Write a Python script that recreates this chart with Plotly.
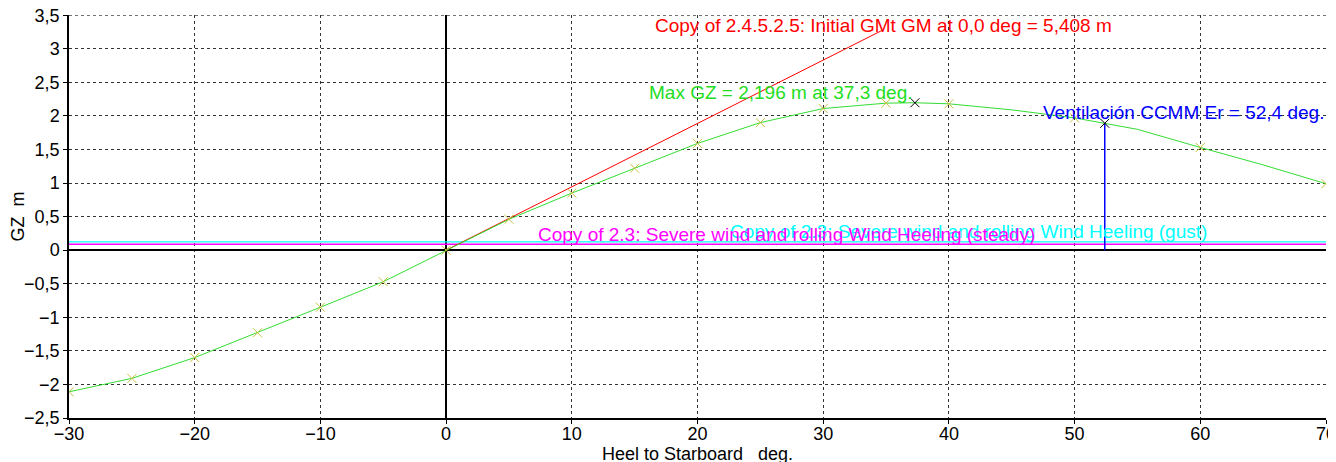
import plotly.graph_objects as go

# GZ curve (heel deg, GZ m)
heel = [-30, -25, -20, -15, -10, -5, 0, 5, 10, 15, 20, 25, 30, 35, 37.3, 40, 45, 50, 52.4, 55, 60, 65, 70]
gz = [-2.11, -1.91, -1.60, -1.23, -0.85, -0.47, 0.0, 0.46, 0.85, 1.22, 1.59, 1.90, 2.11, 2.19, 2.196, 2.18, 2.09, 1.97, 1.89, 1.80, 1.53, 1.27, 0.99]
mark_heel = [-30, -25, -20, -15, -10, -5, 0, 5, 10, 15, 20, 25, 30, 35, 40, 50, 60, 70]
mark_gz = [-2.11, -1.91, -1.60, -1.23, -0.85, -0.47, 0.0, 0.46, 0.85, 1.22, 1.59, 1.90, 2.11, 2.19, 2.18, 1.97, 1.53, 0.99]

# Initial GM line
gm_x = [0, 34.8]
gm_y = [0, 5.408 * 34.8 / 57.2958]

# Heeling arms
steady_x = [-30, 70]
steady_y = [0.09, 0.09]
gust_x = [-30, 70]
gust_y = [0.125, 0.125]

# Key points
maxgz_x, maxgz_y = 37.3, 2.196
er_x, er_y = 52.4, 1.89

x_ticks = [-30, -20, -10, 0, 10, 20, 30, 40, 50, 60, 70]
y_ticks = [-2.5, -2, -1.5, -1, -0.5, 0, 0.5, 1, 1.5, 2, 2.5, 3, 3.5]

GREEN = "#33dd33"
FONT = "Liberation Sans, Arial, sans-serif"

fig = go.Figure()
fig.add_trace(go.Scatter(x=steady_x, y=steady_y, mode="lines", line=dict(color="#ff00ff", width=1.5), hoverinfo="skip"))
fig.add_trace(go.Scatter(x=gust_x, y=gust_y, mode="lines", line=dict(color="#00ffff", width=1.2), hoverinfo="skip"))
fig.add_trace(go.Scatter(x=gm_x, y=gm_y, mode="lines", line=dict(color="#ff0000", width=1)))
fig.add_trace(go.Scatter(x=heel, y=gz, mode="lines", line=dict(color=GREEN, width=1)))
fig.add_trace(go.Scatter(x=mark_heel, y=mark_gz, mode="markers",
                         marker=dict(symbol="x-thin", size=9, line=dict(color="#c8c040", width=1), color="#c8c040")))
fig.add_trace(go.Scatter(x=[er_x, er_x], y=[0, er_y], mode="lines", line=dict(color="#0000ff", width=1.5)))
fig.add_trace(go.Scatter(x=[maxgz_x, er_x], y=[maxgz_y, er_y], mode="markers",
                         marker=dict(symbol="x-thin", size=9, line=dict(color="black", width=1), color="black")))

ann = [
    (16.6, 3.35, "Copy of 2.4.5.2.5: Initial GMt GM at 0,0 deg = 5,408 m", "#ff0000"),
    (16.15, 2.35, "Max GZ = 2,196 m at 37,3 deg.", "#22dd22"),
    (47.5, 2.05, "Ventilación CCMM Er = 52,4 deg.", "#0000ff"),
    (22.6, 0.28, "Copy of 2.3: Severe wind and rolling Wind Heeling (gust)", "#00ffff"),
    (7.3, 0.24, "Copy of 2.3: Severe wind and rolling Wind Heeling (steady)", "#ff00ff"),
]
for x, y, t, c in ann:
    fig.add_annotation(x=x, y=y, text=t, showarrow=False, xanchor="left", yanchor="middle",
                       font=dict(color=c, size=19, family=FONT), xshift=-2)

# top edge gridline (dotted, like the other grid lines)
fig.add_shape(type="line", xref="paper", yref="y", x0=0, x1=1, y0=y_ticks[-1], y1=y_ticks[-1],
              line=dict(color="#333333", width=1, dash="dot"), layer="below")

fig.update_layout(
    width=1336, height=462,
    margin=dict(l=61, r=18, t=7, b=52),
    plot_bgcolor="white", paper_bgcolor="white",
    showlegend=False,
    separators=",.",
    font=dict(family=FONT, size=18, color="black"),
)
fig.update_xaxes(range=[-30, 70], tickvals=x_ticks, showgrid=True, gridcolor="#333333", griddash="dot", gridwidth=1,
                 zeroline=True, zerolinecolor="black", zerolinewidth=1.5, automargin=False,
                 showline=True, linecolor="black", linewidth=1.5, ticks="outside", ticklen=4, tickcolor="black",
                 ticklabelstandoff=-5, ticklabeloverflow="allow",
                 title=dict(text="Heel to Starboard&nbsp;&nbsp;&nbsp;deg.", font=dict(size=18), standoff=0),
                 tickfont=dict(size=18))
fig.update_yaxes(range=[-2.5, 3.503], tickvals=y_ticks, showgrid=True, gridcolor="#333333", griddash="dot", gridwidth=1,
                 zeroline=True, zerolinecolor="black", zerolinewidth=1.5, automargin=False,
                 showline=True, linecolor="black", linewidth=1.5, ticks="outside", ticklen=4, tickcolor="black",
                 ticklabeloverflow="allow",
                 title=dict(text="GZ&nbsp;&nbsp;m", font=dict(size=18), standoff=6),
                 tickfont=dict(size=18))

fig.write_html("out.html")
